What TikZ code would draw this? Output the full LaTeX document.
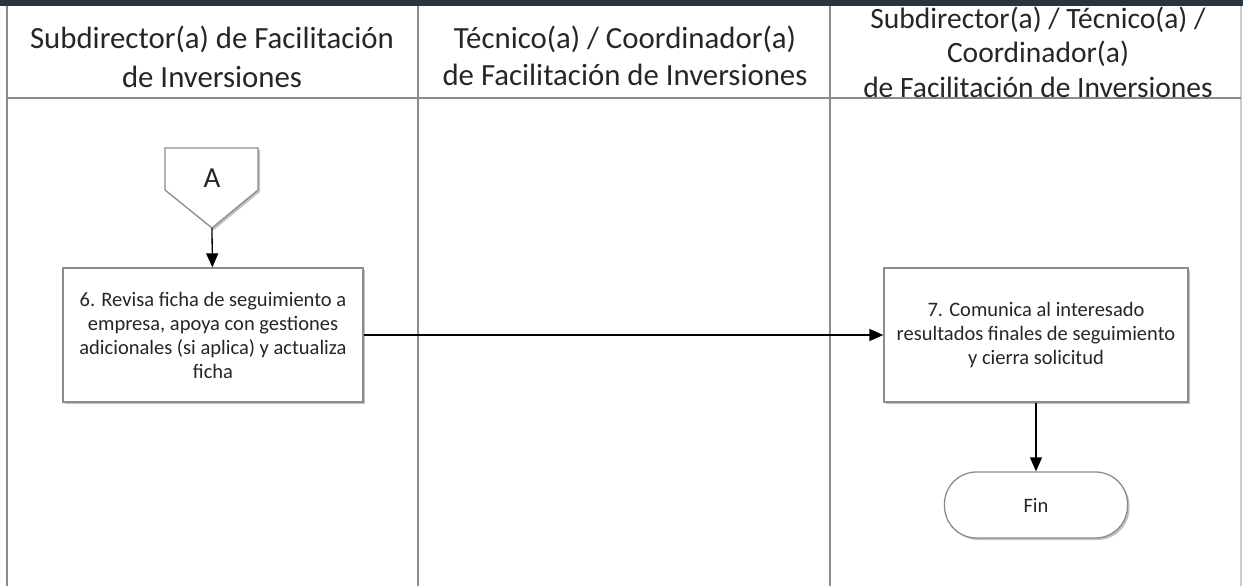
\documentclass[tikz,border=0pt]{standalone}
\usepackage{fontspec}
\setmainfont{Carlito}
\usetikzlibrary{arrows.meta,shadows}

\definecolor{lanegray}{HTML}{8C8C8C}
\definecolor{topbar}{HTML}{2B3240}

\tikzset{
  lane/.style={draw=lanegray, line width=1.4pt},
  lanehead/.style={align=center, font=\fontsize{30.8}{39}\selectfont, text=black!85},
  procbox/.style={draw=lanegray, line width=1.3pt, fill=white, minimum width=300pt,
    minimum height=134pt, align=center, font=\fontsize{20.5}{24}\selectfont, text=black!85,
    drop shadow={shadow xshift=2pt, shadow yshift=-2pt, fill=black!40, opacity=0.6}},
  endbox/.style={procbox, rounded corners=32pt, minimum width=183pt, minimum height=66pt},
  flow/.style={-{Triangle[length=14pt,width=12pt]}, line width=1.3pt, black}
}

\begin{document}
\begin{tikzpicture}[x=1pt, y=-1pt]
\useasboundingbox (0,0) rectangle (1243,586);
\fill[white] (0,0) rectangle (1243,586);

% swimlanes
\fill[topbar] (0,0) rectangle (1243,6);
\draw[lane] (7,6) -- (7,586);
\draw[lane] (418,6) -- (418,586);
\draw[lane] (830,6) -- (830,586);
\draw[draw=black!20, line width=1.4pt] (1241,6) -- (1241,586);
\draw[lane, line width=2pt] (7,98) -- (1241,98);

\node[lanehead] (h1) at (212,57) {Subdirector(a) de Facilitación\\de Inversiones};
\node[lanehead, font=\fontsize{30.8}{37}\selectfont] (h2) at (625,56) {Técnico(a) / Coordinador(a)\\de Facilitación de Inversiones};
\node[lanehead, font=\fontsize{29.5}{34.5}\selectfont] (h3) at (1038,52) {Subdirector(a) / Técnico(a) /\\Coordinador(a)\\de Facilitación de Inversiones};

% off-page connector
\draw[draw=lanegray, line width=1.3pt, fill=white,
  drop shadow={shadow xshift=2pt, shadow yshift=-2pt, fill=black!40, opacity=0.6}]
  (165,148) -- (258,148) -- (258,190) -- (212,228) -- (165,190) -- cycle;
\node[font=\fontsize{29}{30}\selectfont, text=black!85] (conA) at (212,178) {A};
\coordinate (conAtip) at (212,228);

% steps
\node[procbox] (step6) at (213,335) {6. Revisa ficha de seguimiento a\\empresa, apoya con gestiones\\adicionales (si aplica) y actualiza\\ficha};
\node[procbox, minimum width=304pt] (step7) at (1036,335) {7. Comunica al interesado\\resultados finales de seguimiento\\y cierra solicitud};
\node[endbox] (fin) at (1036,505) {Fin};

\draw[flow] (conAtip) -- (step6);
\draw[flow] (step6) -- (step7);
\draw[flow] (step7) -- (fin);
\end{tikzpicture}
\end{document}
